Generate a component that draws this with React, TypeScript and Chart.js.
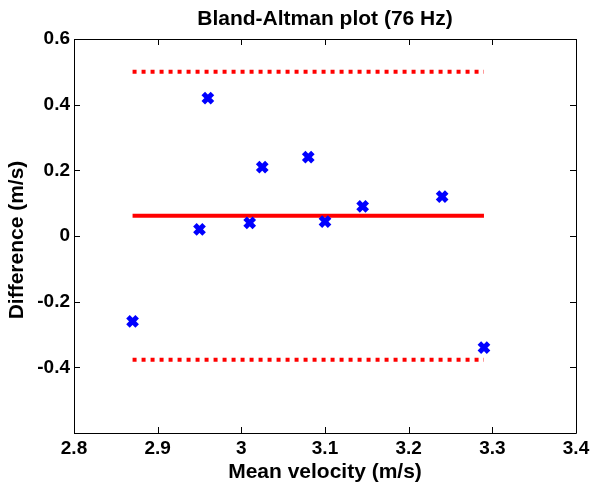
import React, { useEffect, useRef } from "react";
import { Chart, registerables } from "chart.js";

Chart.register(...registerables);

const meanVelocity = [2.87, 2.95, 2.96, 3.01, 3.025, 3.08, 3.1, 3.145, 3.24, 3.29];
const difference = [-0.26, 0.02, 0.42, 0.04, 0.21, 0.24, 0.044, 0.09, 0.12, -0.34];
const lineStartX = 2.87;
const lineEndX = 3.29;
const biasValue = 0.062;
const upperLimit = 0.5;
const lowerLimit = -0.377;
const xTicks = [2.8, 2.9, 3.0, 3.1, 3.2, 3.3, 3.4];
const yTicks = [-0.6, -0.4, -0.2, 0, 0.2, 0.4, 0.6];
const yHiddenLabels = [-0.6];

const chartTitle = "Bland-Altman plot (76 Hz)";
const xTitle = "Mean velocity (m/s)";
const yTitle = "Difference (m/s)";

const FONT = "'Liberation Sans', Arial, Helvetica, sans-serif";

const framePlugin = {
  id: "matlabFrame",
  afterDraw(chart: any) {
    const { ctx, chartArea, scales } = chart;
    const { left, right, top, bottom } = chartArea;
    ctx.save();
    ctx.strokeStyle = "#000";
    ctx.lineWidth = 1;
    ctx.beginPath();
    ctx.rect(Math.round(left) + 0.5, Math.round(top) + 0.5, Math.round(right - left), Math.round(bottom - top));
    ctx.stroke();
    const tl = 6;
    ctx.beginPath();
    xTicks.forEach((v) => {
      const px = Math.round(scales.x.getPixelForValue(v)) + 0.5;
      ctx.moveTo(px, bottom);
      ctx.lineTo(px, bottom - tl);
      ctx.moveTo(px, top);
      ctx.lineTo(px, top + tl);
    });
    yTicks.forEach((v) => {
      const py = Math.round(scales.y.getPixelForValue(v)) + 0.5;
      ctx.moveTo(left, py);
      ctx.lineTo(left + tl, py);
      ctx.moveTo(right, py);
      ctx.lineTo(right - tl, py);
    });
    ctx.stroke();

    ctx.fillStyle = "#000";
    ctx.font = `bold 21px ${FONT}`;
    ctx.textAlign = "center";
    ctx.textBaseline = "alphabetic";
    const cx = (left + right) / 2;
    ctx.fillText(chartTitle, cx, 25);
    ctx.fillText(xTitle, cx, 478);
    ctx.save();
    ctx.translate(23, (top + bottom) / 2 + 4);
    ctx.rotate(-Math.PI / 2);
    ctx.fillText(yTitle, 0, 0);
    ctx.restore();
    ctx.restore();
  },
};

export default function App() {
  const ref = useRef<HTMLCanvasElement | null>(null);
  useEffect(() => {
    if (!ref.current) return;
    const points = meanVelocity.map((x, i) => ({ x, y: difference[i] }));
    const hLine = (y: number) => [
      { x: lineStartX, y },
      { x: lineEndX, y },
    ];
    const chart = new Chart(ref.current, {
      type: "scatter",
      data: {
        datasets: [
          {
            label: "Differences",
            data: points,
            pointStyle: "crossRot",
            radius: 6.5,
            pointBorderWidth: 5,
            borderColor: "#0000ff",
            backgroundColor: "#0000ff",
            showLine: false,
          } as any,
          {
            label: "Bias",
            data: hLine(biasValue),
            showLine: true,
            borderColor: "#ff0000",
            borderWidth: 4,
            pointRadius: 0,
          },
          {
            label: "Upper LoA",
            data: hLine(upperLimit),
            showLine: true,
            borderColor: "#ff0000",
            borderWidth: 4,
            borderDash: [4, 5],
            borderCapStyle: "butt",
            pointRadius: 0,
          },
          {
            label: "Lower LoA",
            data: hLine(lowerLimit),
            showLine: true,
            borderColor: "#ff0000",
            borderWidth: 4,
            borderDash: [4, 5],
            borderCapStyle: "butt",
            pointRadius: 0,
          },
        ],
      },
      options: {
        responsive: false,
        animation: false,
        layout: { padding: { top: 39, right: 24, left: 0, bottom: 0 } },
        plugins: {
          legend: { display: false },
          tooltip: { enabled: false },
          title: { display: false },
        },
        scales: {
          x: {
            type: "linear",
            min: 2.8,
            max: 3.4,
            afterFit: (s: any) => {
              s.height = 57;
            },
            afterBuildTicks: (s: any) => {
              s.ticks = xTicks.map((v) => ({ value: v }));
            },
            grid: { display: false, drawTicks: false },
            border: { display: false },
            ticks: {
              padding: 4,
              color: "#000",
              maxRotation: 0,
              autoSkip: false,
              font: { family: FONT, size: 19, weight: "bold" },
              callback: (v: any) => String(Math.round(Number(v) * 10) / 10),
            },
          },
          y: {
            type: "linear",
            min: -0.6,
            max: 0.6,
            afterFit: (s: any) => {
              s.width = 74;
            },
            afterBuildTicks: (s: any) => {
              s.ticks = yTicks.map((v) => ({ value: v }));
            },
            grid: { display: false, drawTicks: false },
            border: { display: false },
            ticks: {
              padding: 4,
              color: "#000",
              autoSkip: false,
              font: { family: FONT, size: 19, weight: "bold" },
              callback: (v: any) => {
                const n = Math.round(Number(v) * 10) / 10;
                if (yHiddenLabels.some((h) => Math.abs(h - n) < 1e-9)) return "";
                return String(n);
              },
            },
          },
        },
      } as any,
      plugins: [framePlugin],
    });
    return () => chart.destroy();
  }, []);
  return (
    <div style={{ position: "absolute", left: 0, top: 0, width: 600, height: 490, background: "#fff" }}>
      <canvas ref={ref} width={600} height={490} style={{ display: "block" }} />
    </div>
  );
}
